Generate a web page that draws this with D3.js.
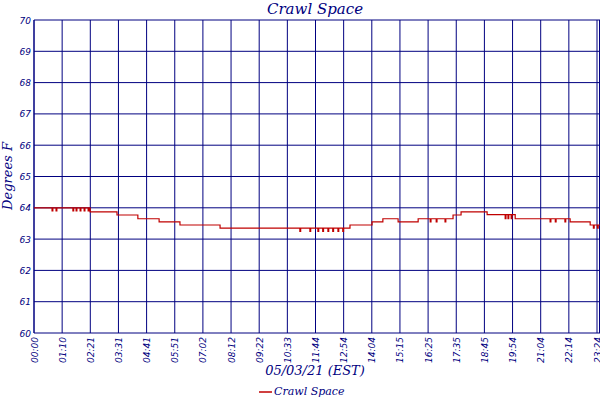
<!DOCTYPE html><html><head><meta charset="utf-8"><script src="https://cdn.jsdelivr.net/npm/d3@7"></script>
<style>body{margin:0;background:#fff}</style></head><body><svg id="c" width="600" height="400"></svg>
<script>
const tickLabels=["00:00","01:10","02:21","03:31","04:41","05:51","07:02","08:12","09:22","10:33","11:44","12:54","14:04","15:15","16:25","17:35","18:45","19:54","21:04","22:14","23:24"];
const yTicks=[60,61,62,63,64,65,66,67,68,69,70];
const stepMinutes=[0,140,207,259,312,364,464,788,843,870,908,958,1045,1065,1130,1200,1337,1387,1412];
const stepValues=[64.0,63.87,63.77,63.65,63.55,63.45,63.35,63.45,63.55,63.65,63.55,63.65,63.77,63.87,63.78,63.65,63.55,63.45,63.45];
const dipMinutes=[45,55,97,105,115,125,135,663,688,708,720,733,745,758,770,988,1003,1025,1175,1182,1190,1287,1300,1324,1395,1405];
const dipValues=[63.9,63.9,63.9,63.9,63.9,63.9,63.9,63.25,63.25,63.25,63.25,63.25,63.25,63.25,63.25,63.55,63.55,63.55,63.65,63.65,63.65,63.55,63.55,63.55,63.35,63.35];
const navy="#000080";
const svg=d3.select("#c");
const L=34,R=600,T=20,B=333;
const x=d3.scaleLinear().domain([0,1404]).range([L,597]);
const y=d3.scaleLinear().domain([60,70]).range([B,T]);
const base=t=>{let v=stepValues[0];for(let i=0;i<stepMinutes.length;i++)if(stepMinutes[i]<=t)v=stepValues[i];return v;};
let pts=stepMinutes.map((t,i)=>[t,stepValues[i]]);
dipMinutes.forEach((t,i)=>{pts.push([t,dipValues[i]]);pts.push([t+2,base(t)]);});
pts.sort((a,b)=>a[0]-b[0]);
const g=svg.append("g");
yTicks.forEach(v=>g.append("line").attr("x1",L).attr("x2",R).attr("y1",y(v)).attr("y2",y(v)).attr("stroke",navy));
tickLabels.forEach((s,i)=>{const xx=x(i*1404/20);g.append("line").attr("x1",xx).attr("x2",xx).attr("y1",T).attr("y2",B).attr("stroke",navy);});
g.append("line").attr("x1",L).attr("x2",L).attr("y1",T).attr("y2",B).attr("stroke",navy);
g.append("line").attr("x1",R-0.5).attr("x2",R-0.5).attr("y1",T).attr("y2",B).attr("stroke",navy);
svg.append("path").datum(pts).attr("fill","none").attr("stroke","#c00000").attr("stroke-width",1.2)
 .attr("d",d3.line().x(d=>x(d[0])).y(d=>y(d[1])).curve(d3.curveStepAfter));
const tf="DejaVu Sans";
yTicks.forEach(v=>svg.append("text").attr("x",L-3).attr("y",y(v)+3.5).attr("text-anchor","end").attr("font-family",tf).attr("font-style","italic").attr("font-size",9).attr("fill",navy).text(v));
tickLabels.forEach((s,i)=>{const xx=x(i*1404/20);svg.append("text").attr("transform",`translate(${xx+3.5},${B+4}) rotate(-90)`).attr("text-anchor","end").attr("font-family",tf).attr("font-style","italic").attr("font-size",9).attr("fill",navy).text(s);});
const sf="DejaVu Serif";
svg.append("text").attr("x",315).attr("y",14).attr("text-anchor","middle").attr("font-family",sf).attr("font-style","italic").attr("font-size",15).attr("fill",navy).text("Crawl Space");
svg.append("text").attr("transform","translate(12,176) rotate(-90)").attr("text-anchor","middle").attr("font-family",sf).attr("font-style","italic").attr("font-size",13).attr("fill",navy).text("Degrees F");
svg.append("text").attr("x",315).attr("y",375).attr("text-anchor","middle").attr("font-family",sf).attr("font-style","italic").attr("font-size",13).attr("fill",navy).text("05/03/21 (EST)");
svg.append("line").attr("x1",259).attr("x2",272).attr("y1",392).attr("y2",392).attr("stroke","#c00000").attr("stroke-width",1.5);
svg.append("text").attr("x",274).attr("y",395).attr("font-family",sf).attr("font-style","italic").attr("font-size",11).attr("fill",navy).text("Crawl Space");
</script></body></html>
